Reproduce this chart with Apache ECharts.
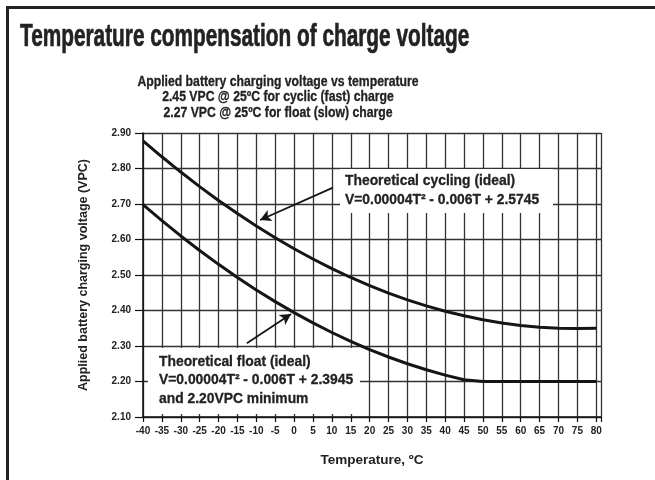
<!DOCTYPE html>
<html>
<head>
<meta charset="utf-8">
<script src="https://cdn.jsdelivr.net/npm/echarts@6/dist/echarts.min.js"></script>
<style>
  html, body { margin: 0; padding: 0; background: #fff; }
  #main { width: 655px; height: 480px; }
</style>
</head>
<body>
<div id="main"></div>
<script>
// temperatures, ºC
const temps = [-40, -35, -30, -25, -20, -15, -10, -5, 0, 5, 10, 15, 20, 25, 30, 35, 40, 45, 50, 55, 60, 65, 70, 75, 80]
// cycling (fast) charge voltage, VPC
const cycling = [2.878, 2.833, 2.790, 2.749, 2.710, 2.673, 2.638, 2.605, 2.574, 2.545, 2.518, 2.493, 2.470, 2.449, 2.430, 2.413, 2.398, 2.385, 2.374, 2.365, 2.358, 2.353, 2.350, 2.349, 2.350]
// float (slow) charge voltage, VPC
const float = [2.698, 2.653, 2.610, 2.569, 2.530, 2.493, 2.458, 2.425, 2.394, 2.365, 2.338, 2.313, 2.290, 2.269, 2.250, 2.233, 2.218, 2.205, 2.200, 2.200, 2.200, 2.200, 2.200, 2.200, 2.200]
const yTicks = [2.10, 2.20, 2.30, 2.40, 2.50, 2.60, 2.70, 2.80, 2.90]

const FONT = '"Liberation Sans", Arial, sans-serif'
const INK = '#222'

const chart = echarts.init(document.getElementById('main'), null, { renderer: 'canvas' })

function pairs(vals) {
  return temps.map((t, i) => [t, vals[i]])
}

const arrowLine = {
  silent: true,
  symbol: ['none', 'arrow'],
  symbolSize: [9, 11],
  label: { show: false },
  lineStyle: { color: '#151515', width: 1.8, type: 'solid' }
}

chart.setOption({
  backgroundColor: '#fff',
  animation: false,
  grid: {
    left: 143,
    right: 54,
    top: 133,
    bottom: 63
  },
  xAxis: {
    type: 'value',
    min: -40,
    max: 81.25,
    interval: 5,
    name: 'Temperature, ºC',
    nameLocation: 'middle',
    nameGap: 36,
    nameTextStyle: { fontFamily: FONT, fontWeight: 'bold', fontSize: 13.5, color: INK },
    axisLine: { onZero: false, lineStyle: { color: '#111', width: 1.5 } },
    axisTick: { length: 5, lineStyle: { color: '#111', width: 1.2 } },
    axisLabel: {
      margin: 9,
      fontFamily: FONT,
      fontWeight: 'bold',
      fontSize: 10,
      color: INK,
      formatter: v => (v % 5 === 0 ? String(v) : '')
    },
    splitLine: { show: true, lineStyle: { color: '#333', width: 1.3 } }
  },
  yAxis: {
    type: 'value',
    min: yTicks[0],
    max: yTicks[yTicks.length - 1],
    interval: 0.1,
    name: 'Applied battery charging voltage (VPC)',
    nameLocation: 'middle',
    nameGap: 53,
    nameTextStyle: { fontFamily: FONT, fontWeight: 'bold', fontSize: 12.5, color: INK },
    axisLine: { show: true, onZero: false, lineStyle: { color: '#111', width: 1.5 } },
    axisTick: { show: true, length: 8, lineStyle: { color: '#111', width: 1.2 } },
    axisLabel: {
      margin: 12,
      fontFamily: FONT,
      fontWeight: 'bold',
      fontSize: 10,
      color: INK,
      formatter: v => v.toFixed(2)
    },
    splitLine: { show: true, lineStyle: { color: '#333', width: 1.3 } }
  },
  series: [
    {
      name: 'Theoretical cycling (ideal)',
      type: 'line',
      data: pairs(cycling),
      symbol: 'none',
      lineStyle: { color: '#151515', width: 3, join: 'round' },
      markLine: Object.assign({ data: [[{ coord: [10.3, 2.746] }, { coord: [-9, 2.655] }]] }, arrowLine),
      z: 5
    },
    {
      name: 'Theoretical float (ideal)',
      type: 'line',
      data: pairs(float),
      symbol: 'none',
      lineStyle: { color: '#151515', width: 3, join: 'round' },
      markLine: Object.assign({ data: [[{ coord: [-12.5, 2.308] }, { coord: [-0.8, 2.39] }]] }, arrowLine),
      z: 5
    }
  ],
  graphic: [
    { // page frame
      type: 'rect',
      shape: { x: 7.5, y: 7.5, width: 700, height: 600 },
      style: { fill: 'none', stroke: '#222', lineWidth: 3 },
      silent: true
    },
    {
      type: 'text',
      x: 20,
      y: 21,
      scaleX: 0.65,
      style: {
        text: 'Temperature compensation of charge voltage',
        verticalAlign: 'top',
        fontFamily: FONT,
        fontWeight: 'bold',
        fontSize: 32,
        fill: INK,
        stroke: INK,
        lineWidth: 0.7
      }
    },
    {
      type: 'text',
      x: 278,
      y: 74,
      scaleX: 0.873,
      style: {
        text: 'Applied battery charging voltage vs temperature\n2.45 VPC @ 25ºC for cyclic (fast) charge\n2.27 VPC @ 25ºC for float (slow) charge',
        align: 'center',
        verticalAlign: 'top',
        lineHeight: 15.5,
        fontFamily: FONT,
        fontWeight: 'bold',
        fontSize: 14,
        fill: INK,
        stroke: INK,
        lineWidth: 0.3
      }
    },
    {
      type: 'rect',
      z: 10,
      shape: { x: 340, y: 169, width: 213, height: 44 },
      style: { fill: '#fff' },
      silent: true
    },
    {
      type: 'text',
      z: 11,
      x: 345,
      y: 171,
      scaleX: 0.924,
      style: {
        text: 'Theoretical cycling (ideal)\nV=0.00004T² - 0.006T + 2.5745',
        verticalAlign: 'top',
        lineHeight: 19.3,
        fontFamily: FONT,
        fontWeight: 'bold',
        fontSize: 15,
        fill: INK,
        stroke: INK,
        lineWidth: 0.3
      }
    },
    {
      type: 'rect',
      z: 10,
      shape: { x: 148, y: 348, width: 212, height: 66 },
      style: { fill: '#fff' },
      silent: true
    },
    {
      type: 'text',
      z: 11,
      x: 159,
      y: 352,
      scaleX: 0.924,
      style: {
        text: 'Theoretical float (ideal)\nV=0.00004T² - 0.006T + 2.3945\nand 2.20VPC minimum',
        verticalAlign: 'top',
        lineHeight: 18.8,
        fontFamily: FONT,
        fontWeight: 'bold',
        fontSize: 15,
        fill: INK,
        stroke: INK,
        lineWidth: 0.3
      }
    }
  ]
})
</script>
</body>
</html>
